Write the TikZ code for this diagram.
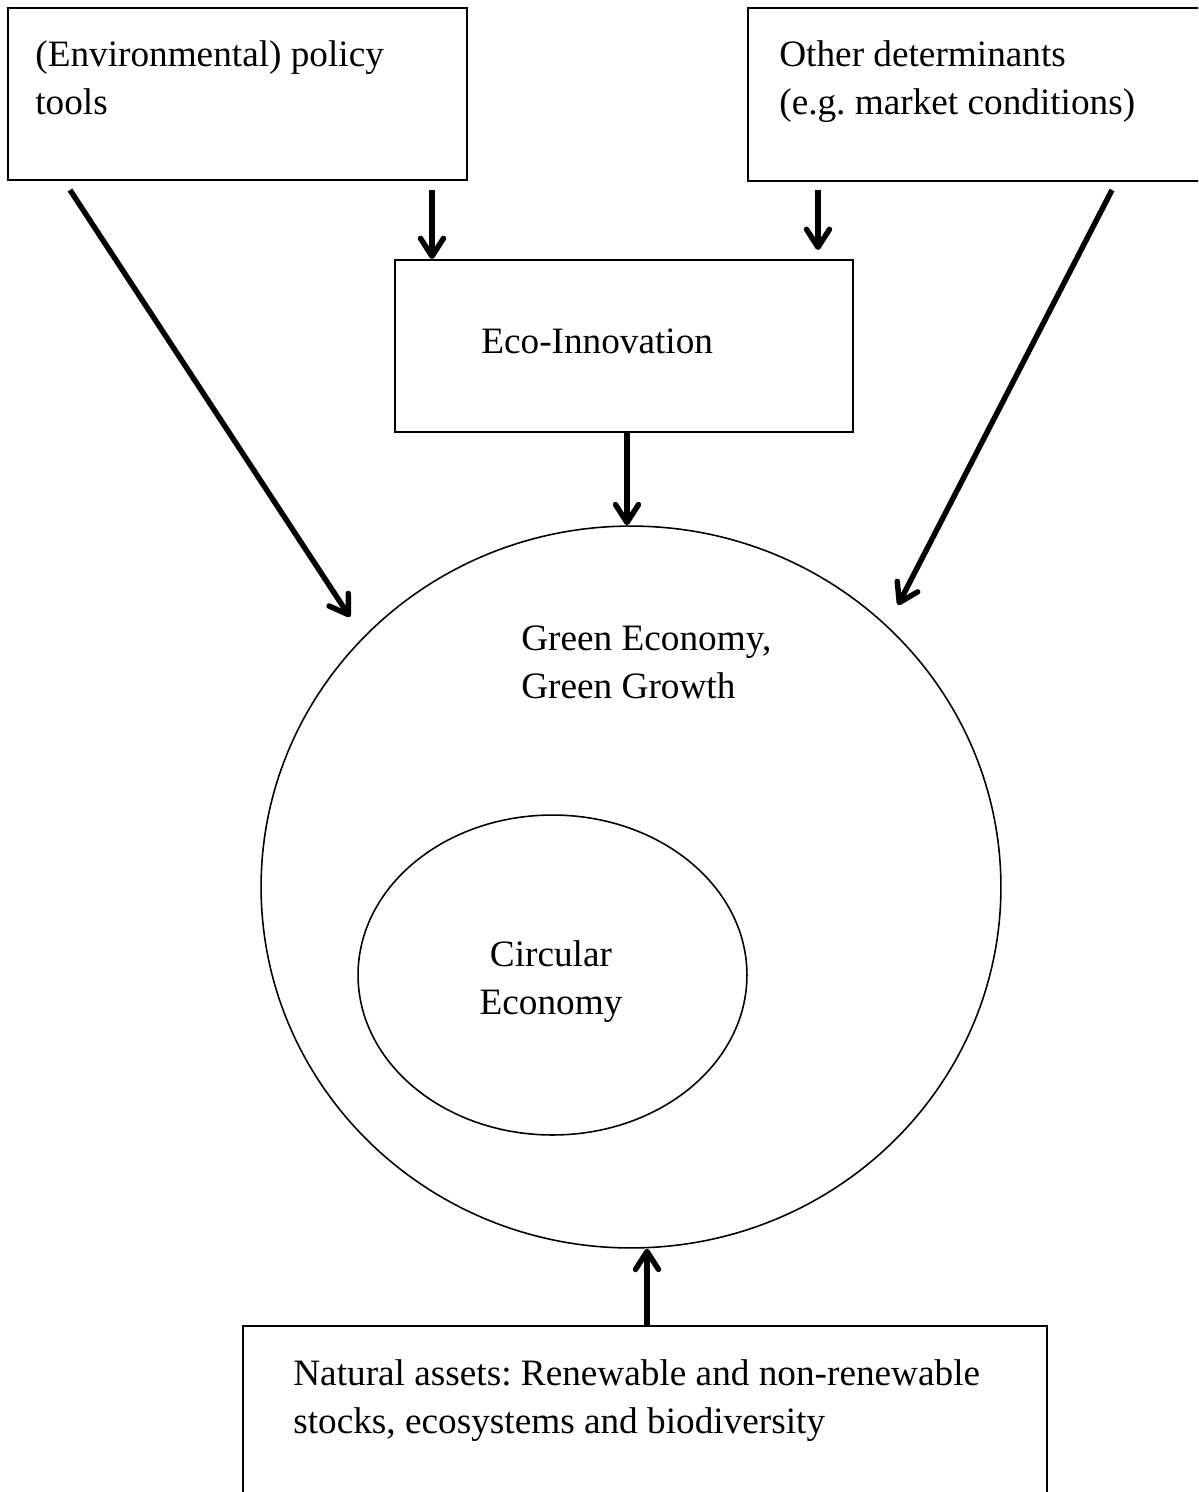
\documentclass[tikz,border=0pt]{standalone}
\usepackage{fontspec}
\setmainfont{Liberation Serif}
\usetikzlibrary{arrows.meta,shapes.geometric}
\frenchspacing

\begin{document}
\begin{tikzpicture}[x=0.02cm,y=-0.02cm,
  box/.style={draw,line width=1.1pt,rectangle,inner sep=0pt},
  ring/.style={draw,line width=0.9pt,ellipse,inner sep=0pt},
  lbl/.style={inner sep=0pt,align=left,anchor=base west,font=\fontsize{21.2}{27.3}\selectfont},
  arr/.style={line width=3.1pt,-{Straight Barb[length=3.6mm,width=4.6mm,round]}}]
\clip (0,0) rectangle (1198,1492);

% boxes and rings
\node[box,minimum width=9.18cm,minimum height=3.44cm] (policy) at (237.5,94) {};
\node[box,minimum width=9.64cm,minimum height=3.46cm] (other) at (989,94.5) {};
\node[box,minimum width=9.16cm,minimum height=3.44cm] (eco) at (624,346) {};
\node[ring,minimum width=14.8cm,minimum height=14.44cm] (green) at (631,887) {};
\node[ring,minimum width=7.78cm,minimum height=6.4cm] (circ) at (552.5,975) {};
\node[box,minimum width=16.08cm,minimum height=3.88cm] (assets) at (645,1423) {};

% texts (base = last line)
\node[lbl] (tpolicy) at (35,114) {(Environmental) policy\\tools};
\node[lbl] (tother) at (779,114) {Other determinants\\(e.g. market conditions)};
\node[lbl] (teco) at (481,353) {Eco-Innovation};
\node[lbl] (tgreen) at (521,698) {Green Economy,\\Green Growth};
\node[lbl,align=center,anchor=base] (tcirc) at (551,1014) {Circular\\Economy};
\node[lbl] (tassets) at (293,1433) {Natural assets: Renewable and non-renewable\\stocks, ecosystems and biodiversity};

% arrow ends
\coordinate (a1) at (70,190);
\coordinate (b1) at (350,617);
\coordinate (a2) at (432,190);
\coordinate (a3) at (818,190);
\coordinate (b3) at (818,250);
\coordinate (a4) at (1112,190);
\coordinate (b4) at (898,605);

\draw[arr] (a1) -- (b1);
\draw[arr] (a2) -- (a2 |- eco.north);
\draw[arr] (a3) -- (b3);
\draw[arr] (a4) -- (b4);
\draw[arr] (eco.south -| 627,0) -- (green.north -| 627,0);
\draw[arr] (assets.north -| 647,0) -- (green.south -| 647,0);

\end{tikzpicture}
\end{document}
